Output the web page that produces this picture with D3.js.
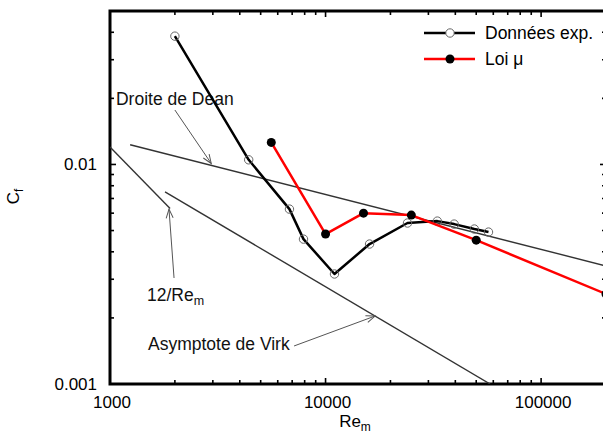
<!DOCTYPE html>
<html>
<head>
<meta charset="utf-8">
<script src="https://cdn.jsdelivr.net/npm/d3@7"></script>
<style>
  body { margin: 0; background: #fff; overflow: hidden; }
</style>
</head>
<body>
<script>
(function () {
  // Experimental data (Données exp.)
  const expRe = [2000, 4400, 6800, 7900, 11000, 16000, 24000, 33000, 39500, 49000, 57000];
  const expCf = [0.0384, 0.0105, 0.00626, 0.00457, 0.00317, 0.00434, 0.00541, 0.00552, 0.00535, 0.00508, 0.00492];

  // Loi mu
  const muRe = [5600, 10000, 15000, 25000, 50000, 200000];
  const muCf = [0.0126, 0.00482, 0.006, 0.00588, 0.00452, 0.00257];

  // reference lines (end points)
  const deanRe = [1240, 200000];
  const deanCf = [0.0123, 0.00345];
  const laminarRe = [1000, 1900];
  const laminarCf = [0.012, 0.0063];
  const virkRe = [1800, 58000];
  const virkCf = [0.0075, 0.001];

  // axes
  const xDomain = [1000, 200000];
  const yDomain = [0.001, 0.05];
  const xTickLabels = [1000, 10000, 100000];
  const yTickLabels = [0.001, 0.01];

  // annotations: text anchor + arrow from/to, in data units
  const notes = [
    { text: "Droite de Dean", sub: "", at: [1066, 0.0186], from: [2000, 0.0177], to: [2950, 0.0101] },
    { text: "12/Re", sub: "m", at: [1485, 0.00239], from: [1982, 0.00304], to: [1878, 0.00626] },
    { text: "Asymptote de Virk", sub: "", at: [1501, 0.00143], from: [7143, 0.00149], to: [16970, 0.00204] }
  ];

  const width = 603, height = 437;
  const left = 110, right = 606, top = 11, bottom = 384;
  const font = "'Liberation Sans', Arial, Helvetica, sans-serif";

  const x = d3.scaleLog().domain(xDomain).range([left, right]);
  const y = d3.scaleLog().domain(yDomain).range([bottom, top]);

  const svg = d3.select("body").append("svg")
    .attr("width", width)
    .attr("height", height)
    .attr("font-family", font);

  const defs = svg.append("defs");
  defs.append("marker")
    .attr("id", "arrow")
    .attr("viewBox", "-10 -5 12 10")
    .attr("refX", 0)
    .attr("refY", 0)
    .attr("markerUnits", "userSpaceOnUse")
    .attr("markerWidth", 12)
    .attr("markerHeight", 10)
    .attr("orient", "auto")
    .append("path")
    .attr("d", "M-9,-3.5L0,0L-9,3.5")
    .attr("fill", "none")
    .attr("stroke", "#555")
    .attr("stroke-width", 1);

  defs.append("clipPath").attr("id", "plot")
    .append("rect")
    .attr("x", left).attr("y", top)
    .attr("width", right - left).attr("height", bottom - top);

  const line = d3.line().x((d) => x(d[0])).y((d) => y(d[1]));
  const zip = (a, b) => a.map((v, i) => [v, b[i]]);

  // ticks on all four sides, pointing inward
  const isMajor = (v) => Math.abs(Math.log10(v) - Math.round(Math.log10(v))) < 1e-9;
  const ticks = svg.append("g").attr("stroke", "#000").attr("stroke-width", 1.6);
  x.ticks().forEach((v) => {
    const len = isMajor(v) ? 6 : 4;
    ticks.append("line").attr("x1", x(v)).attr("x2", x(v)).attr("y1", bottom).attr("y2", bottom - len);
    ticks.append("line").attr("x1", x(v)).attr("x2", x(v)).attr("y1", top).attr("y2", top + len);
  });
  y.ticks().forEach((v) => {
    const len = isMajor(v) ? 6 : 4;
    ticks.append("line").attr("y1", y(v)).attr("y2", y(v)).attr("x1", left).attr("x2", left + len);
    ticks.append("line").attr("y1", y(v)).attr("y2", y(v)).attr("x1", right).attr("x2", right - len);
  });

  svg.append("rect")
    .attr("x", left).attr("y", top)
    .attr("width", right - left).attr("height", bottom - top)
    .attr("fill", "none")
    .attr("stroke", "#000")
    .attr("stroke-width", 3);

  // tick labels
  svg.append("g").selectAll("text")
    .data(xTickLabels)
    .join("text")
    .attr("x", (d) => x(d) + 2)
    .attr("y", bottom + 24)
    .attr("text-anchor", "middle")
    .attr("font-size", 17)
    .text((d) => d);

  svg.append("g").selectAll("text")
    .data(yTickLabels)
    .join("text")
    .attr("x", left - 13)
    .attr("y", (d) => y(d) + 6)
    .attr("text-anchor", "end")
    .attr("font-size", 17)
    .text((d) => d);

  // axis titles
  const xt = svg.append("text")
    .attr("x", (left + right) / 2 - 3)
    .attr("y", 427)
    .attr("text-anchor", "middle")
    .attr("font-size", 17);
  xt.append("tspan").text("Re");
  xt.append("tspan").attr("font-size", 12).attr("dy", 4).text("m");

  const yt = svg.append("text")
    .attr("transform", `translate(19,${(top + bottom) / 2 - 1}) rotate(-90)`)
    .attr("text-anchor", "middle")
    .attr("font-size", 17);
  yt.append("tspan").text("C");
  yt.append("tspan").attr("font-size", 12).attr("dy", 4).text("f");

  // reference lines
  const refs = svg.append("g").attr("clip-path", "url(#plot)")
    .attr("fill", "none")
    .attr("stroke", "#333")
    .attr("stroke-width", 1.4);
  [zip(deanRe, deanCf), zip(laminarRe, laminarCf), zip(virkRe, virkCf)].forEach((pts) => {
    refs.append("path").attr("d", line(pts));
  });

  // annotations
  const ann = svg.append("g");
  notes.forEach((n) => {
    ann.append("line")
      .attr("x1", x(n.from[0])).attr("y1", y(n.from[1]))
      .attr("x2", x(n.to[0])).attr("y2", y(n.to[1]))
      .attr("stroke", "#555")
      .attr("stroke-width", 1)
      .attr("marker-end", "url(#arrow)");
    const t = ann.append("text")
      .attr("x", x(n.at[0]))
      .attr("y", y(n.at[1]))
      .attr("font-size", 17.5)
      .attr("fill", "#111");
    t.append("tspan").text(n.text);
    if (n.sub) t.append("tspan").attr("font-size", 12.5).attr("dy", 4).text(n.sub);
  });

  // data series
  const exp = zip(expRe, expCf);
  const mu = zip(muRe, muCf);

  svg.append("path")
    .attr("d", line(exp))
    .attr("fill", "none")
    .attr("stroke", "#000")
    .attr("stroke-width", 2.5)
    .attr("stroke-linejoin", "round");

  svg.append("g").selectAll("circle")
    .data(exp)
    .join("circle")
    .attr("cx", (d) => x(d[0]))
    .attr("cy", (d) => y(d[1]))
    .attr("r", 4.2)
    .attr("fill", "none")
    .attr("stroke", "#666")
    .attr("stroke-width", 1);

  svg.append("path")
    .attr("d", line(mu))
    .attr("fill", "none")
    .attr("stroke", "#f00")
    .attr("stroke-width", 2.5)
    .attr("stroke-linejoin", "round");

  svg.append("g").selectAll("circle")
    .data(mu)
    .join("circle")
    .attr("cx", (d) => x(d[0]))
    .attr("cy", (d) => y(d[1]))
    .attr("r", 4.5)
    .attr("fill", "#000");

  // legend
  const legend = svg.append("g");
  [
    { label: "Données exp.", color: "#000", open: true },
    { label: "Loi \u03bc", color: "#f00", open: false }
  ].forEach((d, i) => {
    const ly = 33 + i * 26;
    legend.append("line")
      .attr("x1", 424).attr("x2", 475)
      .attr("y1", ly).attr("y2", ly)
      .attr("stroke", d.color)
      .attr("stroke-width", 2.5);
    legend.append("circle")
      .attr("cx", 450).attr("cy", ly)
      .attr("r", d.open ? 4.2 : 4.5)
      .attr("fill", d.open ? "#fff" : "#000")
      .attr("stroke", d.open ? "#666" : "none")
      .attr("stroke-width", 1);
    legend.append("text")
      .attr("x", 485)
      .attr("y", ly + 6)
      .attr("font-size", 17.5)
      .text(d.label);
  });
})();
</script>
</body>
</html>
